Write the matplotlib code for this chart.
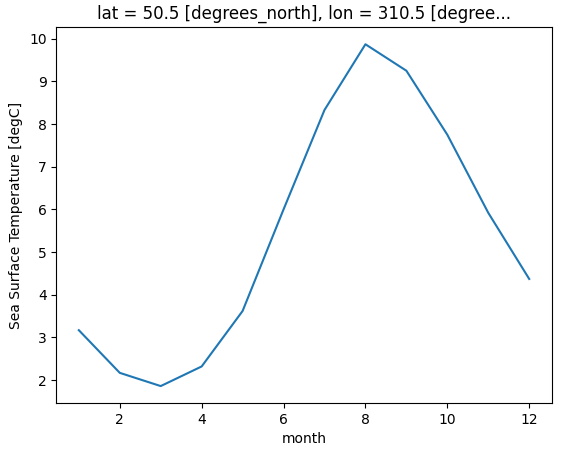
import matplotlib
matplotlib.use("Agg")
import matplotlib.pyplot as plt

months = [1, 2, 3, 4, 5, 6, 7, 8, 9, 10, 11, 12]
sst = [3.17, 2.17, 1.86, 2.32, 3.62, 6.0, 8.33, 9.87, 9.25, 7.75, 5.92, 4.37]

fig, ax = plt.subplots(figsize=(5.63, 4.53), dpi=100)
ax.plot(months, sst)
ax.set_xlabel("month")
ax.set_ylabel("Sea Surface Temperature [degC]")
ax.set_title("lat = 50.5 [degrees_north], lon = 310.5 [degree...")
fig.subplots_adjust(left=0.1, right=0.98, top=0.94, bottom=0.11)
fig.savefig("out.png")
